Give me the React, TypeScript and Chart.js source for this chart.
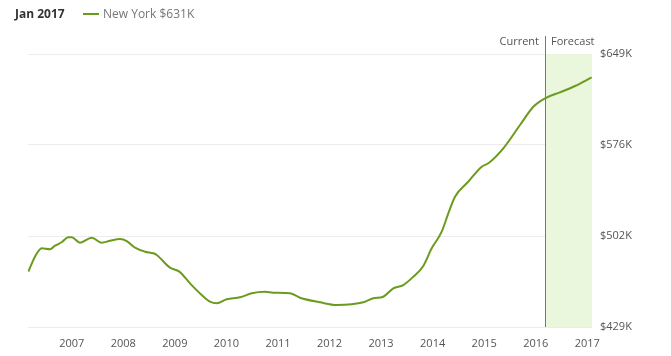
import React, { useEffect, useRef } from "react";
import { Chart, registerables } from "chart.js";

Chart.register(...registerables);

// Decimal-year positions of the sampled points and the home value (in $K)
const dates = [
  2006.158, 2006.288, 2006.418, 2006.579, 2006.676, 2006.806, 2006.934, 2007.0,
  2007.161, 2007.388, 2007.582, 2007.743, 2007.937, 2008.067, 2008.228, 2008.422,
  2008.583, 2008.649, 2008.907, 2009.087, 2009.294, 2009.521, 2009.682, 2009.812,
  2010.006, 2010.264, 2010.491, 2010.749, 2010.91, 2011.234, 2011.428, 2011.816,
  2012.14, 2012.431, 2012.656, 2012.85, 2013.043, 2013.237, 2013.431, 2013.625,
  2013.819, 2013.982, 2014.176, 2014.304, 2014.434, 2014.692, 2014.952, 2015.08,
  2015.371, 2015.695, 2015.953, 2016.18, 2016.471, 2016.762, 2017.085,
];
const values = [
  473.6, 485.7, 492.4, 491.6, 494.5, 497.3, 501.3, 501.3,
  496.9, 501.0, 496.9, 498.5, 499.9, 498.3, 492.9, 489.7,
  488.4, 487.0, 476.8, 473.6, 464.2, 454.8, 449.4, 448.1,
  451.3, 452.9, 456.2, 457.4, 456.6, 456.2, 452.6, 448.9,
  446.7, 447.3, 448.9, 452.1, 453.4, 460.2, 462.8, 469.5,
  478.2, 492.4, 505.8, 520.6, 534.0, 546.1, 558.2, 560.9,
  573.0, 591.8, 606.5, 613.3, 618.1, 623.2, 630.2,
];
const xTickYears = [2007, 2008, 2009, 2010, 2011, 2012, 2013, 2014, 2015, 2016, 2017];
const yTickValues = [429, 502.333, 575.667, 649];
const yTickLabels = ["$429K", "$502K", "$576K", "$649K"];
const xMin = 2006.152;
const xMax = 2017.091;
const currentDate = 2016.18;
const headerDate = "Jan 2017";
const seriesLabel = "New York $631K";

const FONT = "'Open Sans', 'Noto Sans', sans-serif";
const LINE_COLOR = "#6b9b1e";

const forecastPlugin = {
  id: "forecastPlugin",
  beforeDatasetsDraw(chart: any) {
    const { ctx, chartArea, scales } = chart;
    const x = scales.x.getPixelForValue(currentDate);
    ctx.save();
    ctx.fillStyle = "#eaf7dd";
    ctx.fillRect(x, chartArea.top, chartArea.right - x, chartArea.bottom - chartArea.top);
    ctx.strokeStyle = "#777";
    ctx.lineWidth = 1;
    ctx.beginPath();
    ctx.moveTo(Math.round(x) + 0.5, chartArea.top - 18);
    ctx.lineTo(Math.round(x) + 0.5, chartArea.bottom);
    ctx.stroke();
    ctx.font = `11px ${FONT}`;
    ctx.fillStyle = "#555";
    ctx.textBaseline = "middle";
    ctx.textAlign = "right";
    ctx.fillText("Current", x - 6, chartArea.top - 12);
    ctx.textAlign = "left";
    ctx.fillText("Forecast", x + 6, chartArea.top - 12);
    ctx.restore();
  },
};

export default function App() {
  const ref = useRef<HTMLCanvasElement>(null);
  useEffect(() => {
    if (!ref.current) return;
    const chart = new Chart(ref.current, {
      type: "line",
      data: {
        datasets: [
          {
            data: dates.map((d, i) => ({ x: d, y: values[i] })),
            borderColor: LINE_COLOR,
            borderWidth: 2,
            pointRadius: 0,
            tension: 0.4,
            cubicInterpolationMode: "monotone",
            fill: false,
          },
        ],
      },
      options: {
        animation: false,
        responsive: false,
        maintainAspectRatio: false,
        layout: { padding: { left: 28, top: 54, right: 0, bottom: 0 } },
        plugins: { legend: { display: false }, tooltip: { enabled: false } },
        scales: {
          x: {
            type: "linear",
            min: xMin,
            max: xMax,
            afterBuildTicks: (scale: any) => {
              scale.ticks = xTickYears.map((v) => ({ value: v }));
            },
            afterFit: (scale: any) => {
              scale.height = 29;
            },
            ticks: {
              callback: (v: any) => String(v),
              color: "#555",
              font: { family: FONT, size: 11 },
              padding: 10,
              maxRotation: 0,
              autoSkip: false,
            },
            grid: { display: false, drawTicks: false },
            border: { display: false },
          },
          y: {
            position: "right",
            min: 429,
            max: 649,
            afterBuildTicks: (scale: any) => {
              scale.ticks = yTickValues.map((v) => ({ value: v }));
            },
            afterFit: (scale: any) => {
              scale.width = 79;
            },
            ticks: {
              callback: (v: any) => {
                const i = yTickValues.findIndex((t) => Math.abs(t - v) < 0.01);
                return i >= 0 ? yTickLabels[i] : "";
              },
              color: "#555",
              font: { family: FONT, size: 11 },
              padding: 8,
            },
            grid: { color: "#ececec", drawTicks: false },
            border: { display: false },
          },
        },
      },
      plugins: [forecastPlugin],
    } as any);
    return () => chart.destroy();
  }, []);

  return (
    <div style={{ position: "absolute", left: 0, top: 0, width: 671, height: 356, background: "#fff", fontFamily: FONT }}>
      <canvas ref={ref} width={671} height={356} style={{ position: "absolute", left: 0, top: 0 }} />
      <div style={{ position: "absolute", left: 15, top: 5, fontSize: 12, fontWeight: 700, color: "#333", lineHeight: "18px" }}>
        {headerDate}
      </div>
      <div style={{ position: "absolute", left: 83, top: 13, width: 16, height: 2, background: LINE_COLOR }} />
      <div style={{ position: "absolute", left: 103, top: 5, fontSize: 12, color: "#777", lineHeight: "18px" }}>
        {seriesLabel}
      </div>
    </div>
  );
}
